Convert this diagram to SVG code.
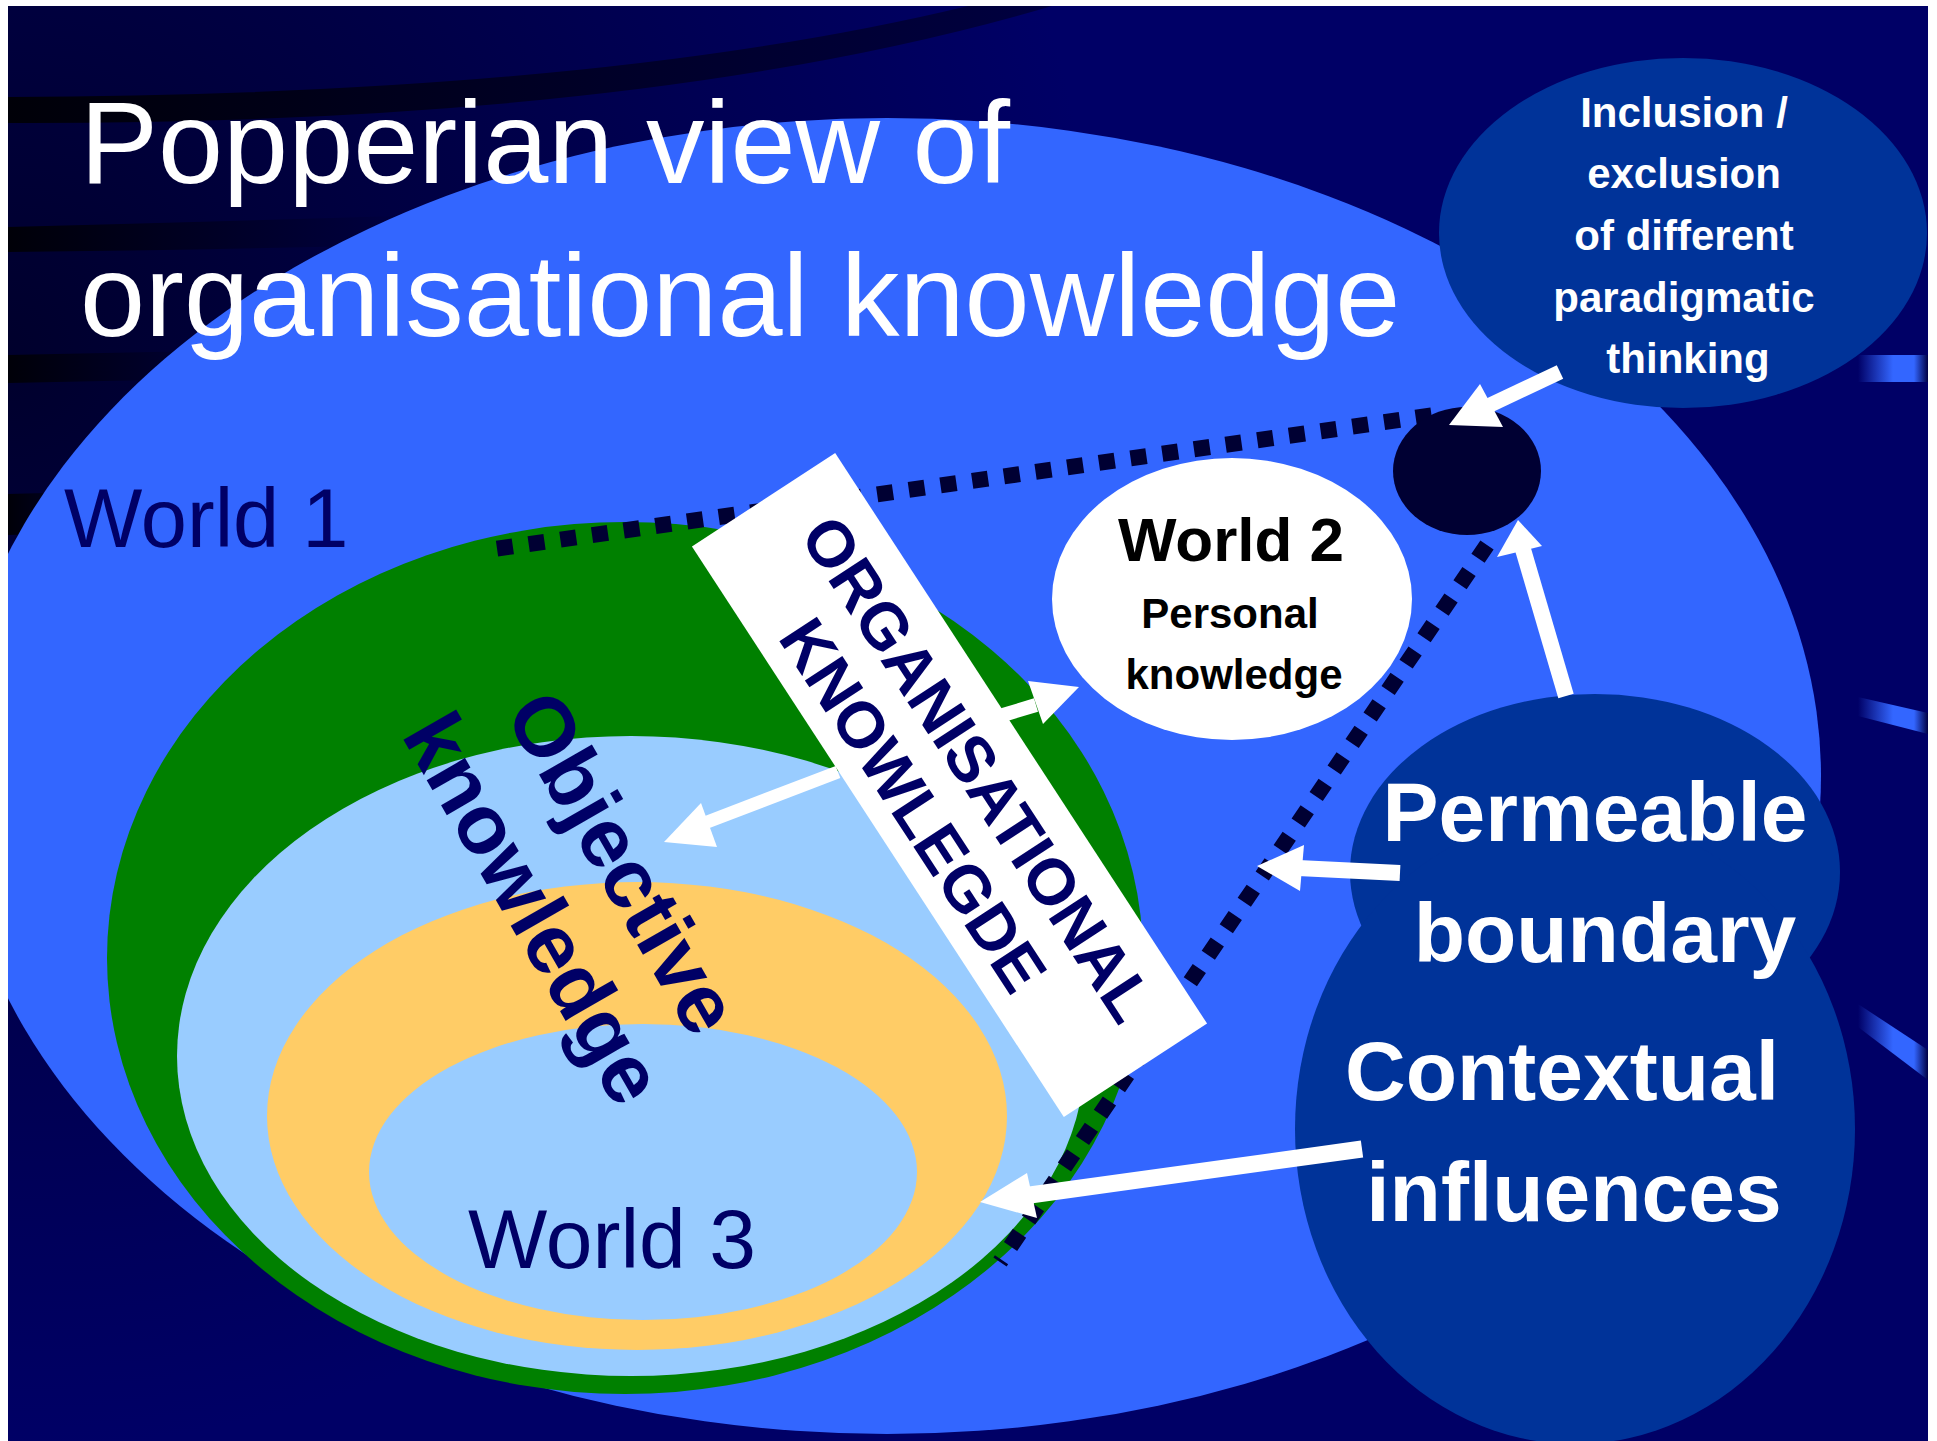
<svg xmlns="http://www.w3.org/2000/svg" width="1937" height="1441" viewBox="0 0 1937 1441">
<style>
  text { font-family: "Liberation Sans", Arial, sans-serif; }
  .title { font-size: 117px; fill: #ffffff; }
  .world { font-size: 83px; fill: #000066; }
  .bold { font-weight: bold; }
  .navy { fill: #000066; }
  .white { fill: #ffffff; }
  .shaft { stroke: #ffffff; fill: none; stroke-linecap: butt; }
  .head { fill: #ffffff; }
  .dots { stroke: #000033; stroke-width: 16; stroke-dasharray: 16 16; fill: none; }
  .dark { fill: #003399; }
</style>
<defs>
  <radialGradient id="bgShade" gradientUnits="userSpaceOnUse" cx="0" cy="350" r="1100">
    <stop offset="0" stop-color="#00002c"/>
    <stop offset="1" stop-color="#000066"/>
  </radialGradient>
  <linearGradient id="band" x1="0" y1="0" x2="1" y2="0">
    <stop offset="0" stop-color="#000008"/>
    <stop offset="1" stop-color="#000040"/>
  </linearGradient>
  <linearGradient id="bar" x1="0" y1="0" x2="1" y2="0">
    <stop offset="0" stop-color="#000066"/>
    <stop offset="0.5" stop-color="#3366FF"/>
    <stop offset="0.8" stop-color="#3366FF"/>
    <stop offset="1" stop-color="#000044"/>
  </linearGradient>
</defs>

<g id="background">
  <rect x="0" y="0" width="1937" height="1441" fill="#ffffff"/>
  <rect x="8" y="6" width="1920" height="1435" fill="url(#bgShade)"/>
  <path d="M8,97 Q600,95 968,6 L1052,6 Q650,125 8,123 Z" fill="url(#band)"/>
  <path d="M8,227 Q200,222 400,216 L400,245 Q200,250 8,252 Z" fill="url(#band)"/>
  <path d="M8,355 L250,350 L250,378 L8,383 Z" fill="url(#band)"/>
  <path d="M8,494 L120,491 L120,532 L8,535 Z" fill="url(#band)"/>
  <rect x="1858" y="355" width="70" height="27" fill="url(#bar)"/>
  <path d="M1858,697 L1928,713 L1928,734 L1858,716 Z" fill="url(#bar)"/>
  <path d="M1858,1004 L1928,1050 L1928,1080 L1858,1027 Z" fill="url(#bar)"/>
</g>

<g id="world1">
  <ellipse cx="887" cy="776" rx="934" ry="658" fill="#3366FF"/>
  <text class="world" x="64" y="547">World 1</text>
</g>

<g id="world3">
  <ellipse cx="625" cy="958" rx="518" ry="436" fill="#008000"/>
  <ellipse cx="631" cy="1056" rx="454" ry="320" fill="#99CCFF"/>
  <ellipse cx="637" cy="1116" rx="370" ry="234" fill="#FFCC66"/>
  <ellipse cx="643" cy="1172" rx="274" ry="148" fill="#99CCFF"/>
  <text class="world" x="468" y="1268" style="font-size:84px">World 3</text>
</g>

<g id="objective-knowledge" transform="translate(598,877) rotate(60)">
  <text class="bold navy" x="0" y="0" text-anchor="middle" style="font-size:84px">Objective</text>
  <text class="bold navy" x="-5" y="100" text-anchor="middle" style="font-size:84px">knowledge</text>
</g>

<g id="boundary">
  <path class="dots" d="M497,548.6 L1445,413.5"/>
  <path class="dots" d="M1487,545 L1000,1262"/>
</g>

<g id="organisational-knowledge" transform="translate(949.5,785) rotate(56.9)">
  <rect x="-340.5" y="-85.5" width="681" height="171" fill="#ffffff"/>
  <text class="bold navy" x="2" y="-10" text-anchor="middle" style="font-size:65px">ORGANISATIONAL</text>
  <text class="bold navy" x="-3" y="64" text-anchor="middle" style="font-size:65px">KNOWLEGDE</text>
</g>

<g id="world2">
  <ellipse cx="1232" cy="599" rx="180" ry="141" fill="#ffffff"/>
  <text class="bold" x="1231" y="561" text-anchor="middle" style="font-size:62px" fill="#000000">World 2</text>
  <text class="bold" x="1230" y="628" text-anchor="middle" style="font-size:42px" fill="#000000">Personal</text>
  <text class="bold" x="1234" y="689" text-anchor="middle" style="font-size:42px" fill="#000000">knowledge</text>
</g>

<g id="paradigm-node">
  <ellipse cx="1467" cy="471" rx="74" ry="64" fill="#000033"/>
</g>

<g id="inclusion">
  <ellipse class="dark" cx="1683" cy="233" rx="244" ry="175"/>
  <g class="bold white" text-anchor="middle" style="font-size:42px">
    <text x="1684" y="127">Inclusion /</text>
    <text x="1684" y="188">exclusion</text>
    <text x="1684" y="250">of different</text>
    <text x="1684" y="312">paradigmatic</text>
    <text x="1688" y="373">thinking</text>
  </g>
</g>

<g id="permeable-contextual">
  <ellipse class="dark" cx="1595" cy="872" rx="245" ry="178"/>
  <ellipse class="dark" cx="1575" cy="1129" rx="280" ry="315"/>
  <g class="bold white" text-anchor="middle" style="font-size:84px">
    <text x="1595" y="841">Permeable</text>
    <text x="1605" y="962">boundary</text>
    <text x="1562" y="1100">Contextual</text>
    <text x="1574" y="1221">influences</text>
  </g>
</g>

<g id="connectors">
  <line class="shaft" x1="1560" y1="372" x2="1488" y2="406" stroke-width="15"/>
  <polygon class="head" points="1449,425 1480,384 1503,427"/>
  <line class="shaft" x1="1566" y1="696" x2="1522" y2="546" stroke-width="16"/>
  <polygon class="head" points="1518,520 1497,557 1542,546"/>
  <line class="shaft" x1="1400" y1="873" x2="1298" y2="868" stroke-width="16"/>
  <polygon class="head" points="1257,866 1304,845 1300,891"/>
  <line class="shaft" x1="1362" y1="1149" x2="1030" y2="1195" stroke-width="17"/>
  <polygon class="head" points="980,1202 1027,1173 1037,1218"/>
  <line class="shaft" x1="838" y1="772" x2="702" y2="824" stroke-width="13"/>
  <polygon class="head" points="664,842 701,803 717,847"/>
  <line class="shaft" x1="1003" y1="715" x2="1036" y2="705" stroke-width="14"/>
  <polygon class="head" points="1079,687 1028,681 1043,724"/>
</g>

<g id="title">
  <text class="title" x="80" y="183">Popperian view of</text>
  <text class="title" x="80" y="336">organisational knowledge</text>
</g>

<g id="frame">
  <rect x="0" y="0" width="8" height="1441" fill="#ffffff"/>
  <rect x="0" y="0" width="1937" height="6" fill="#ffffff"/>
  <rect x="1928" y="0" width="9" height="1441" fill="#ffffff"/>
</g>
</svg>
